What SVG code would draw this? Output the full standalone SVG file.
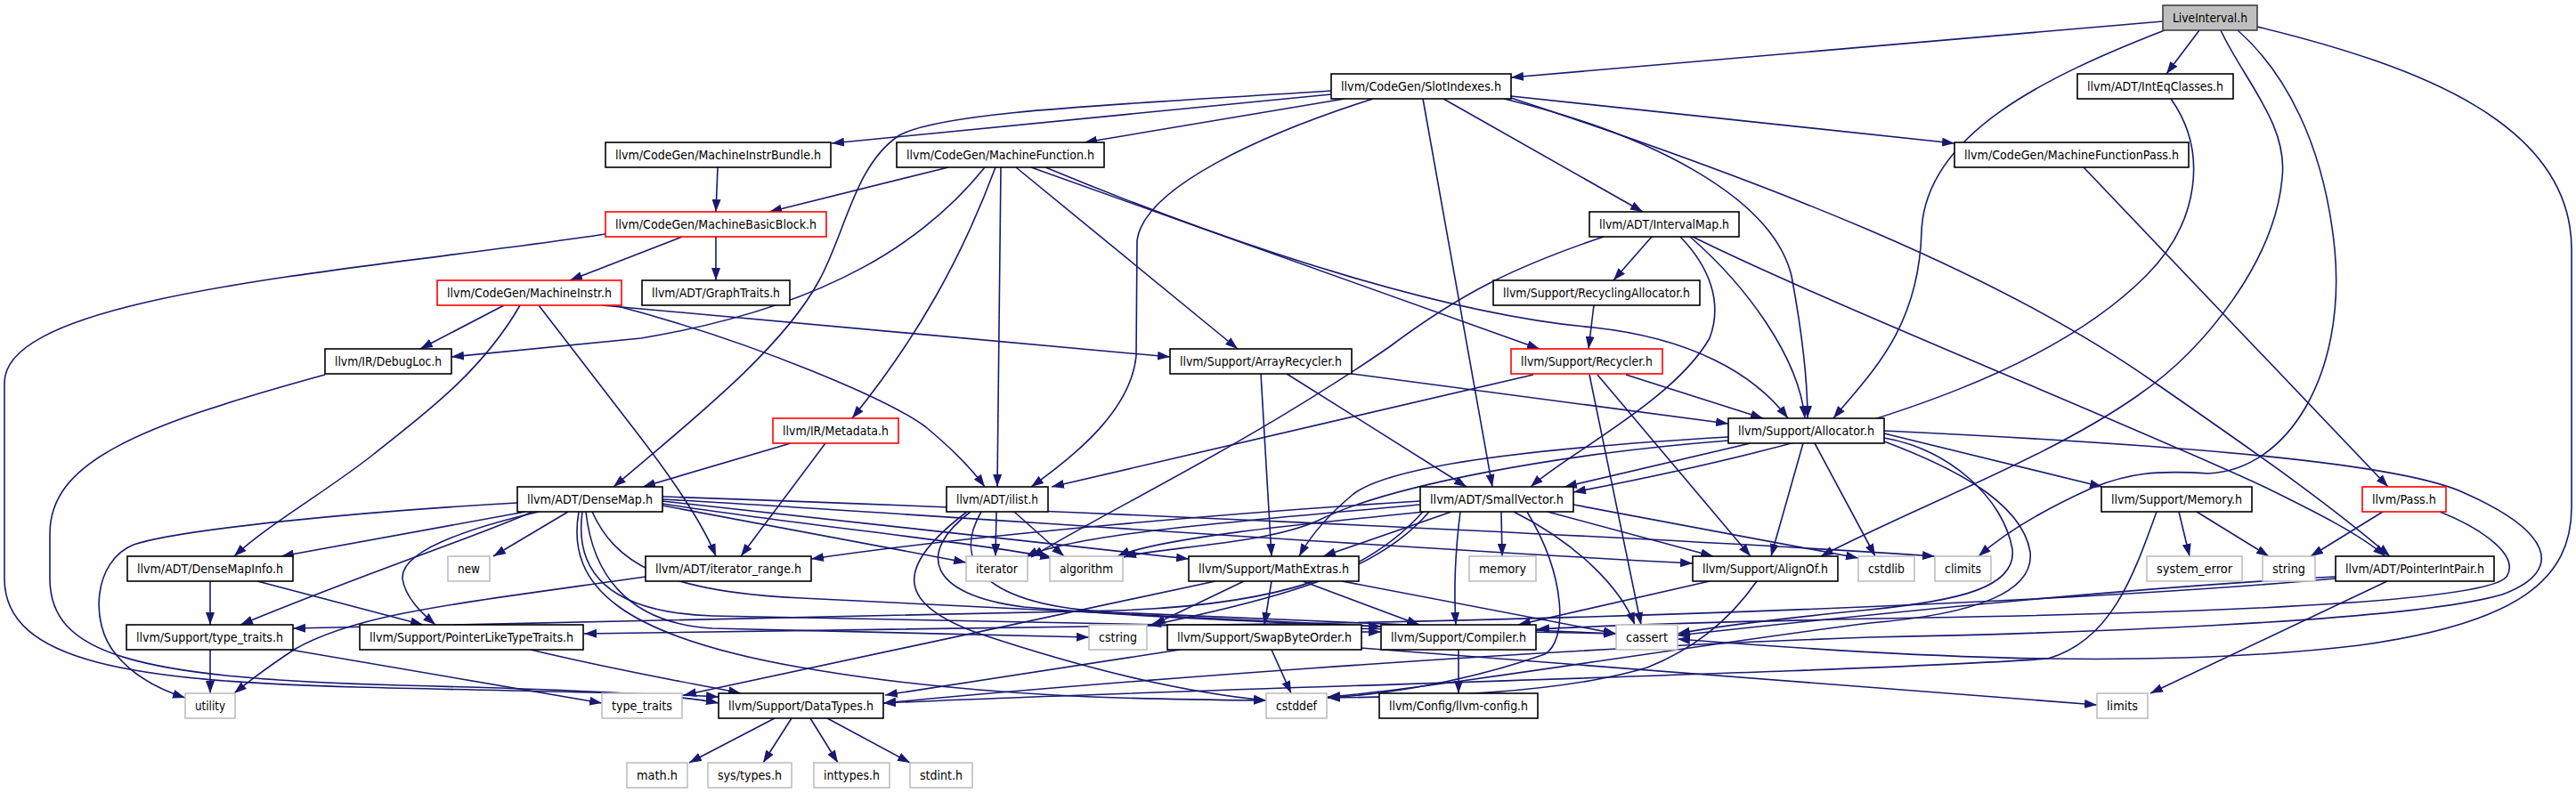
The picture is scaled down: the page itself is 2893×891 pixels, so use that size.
<svg xmlns="http://www.w3.org/2000/svg" width="2893" height="891" viewBox="0 0 2893 891">
<style>
.e{fill:none;stroke:#191970;stroke-width:1.6;marker-end:url(#ah)}
.n rect{fill:#fff;stroke:#000;stroke-width:1.6}
.r rect{fill:#fff;stroke:#ff0000;stroke-width:1.6}
.g rect{fill:#fff;stroke:#bfbfbf;stroke-width:1.6}
.root rect{fill:#bfbfbf;stroke:#404040;stroke-width:1.6}
text{font-family:"DejaVu Sans Condensed","DejaVu Sans",sans-serif;font-size:14px;fill:#000;text-anchor:middle}
</style>
<defs>
<marker id="ah" viewBox="0 0 14 10" refX="14" refY="5" markerWidth="14" markerHeight="10" markerUnits="userSpaceOnUse" orient="auto"><path d="M0,0L14,5L0,10z" fill="#191970"/></marker>
</defs>
<rect width="2893" height="891" fill="#fff"/>
<g id="edges">
<path class="e" d="M2429,24 L1697,87"/>
<path class="e" d="M2470,34 L2433,83"/>
<path class="e" d="M2431,34 C2300,85 2162,150 2158,260 C2155,370 2100,420 2059,470"/>
<path class="e" d="M2494,34 C2520,90 2570,140 2563,200 C2555,290 2480,390 2400,445 C2300,515 2150,570 2045,625"/>
<path class="e" d="M2513,34 C2565,80 2610,160 2622,280 C2635,420 2570,528 2480,532 C2420,528 2390,532 2350,548 C2290,575 2250,600 2222,625"/>
<path class="e" d="M2535,30 C2720,75 2888,140 2888,280 L2888,570 C2888,650 2830,700 2650,725 C2400,755 2100,735 1884,718"/>
<path class="e" d="M1495,106 L934,161"/>
<path class="e" d="M1510,111 L1218,160"/>
<path class="e" d="M1495,102 C1250,118 1060,125 1010,152 C960,185 950,260 920,315 C880,390 780,470 689,547"/>
<path class="e" d="M1542,111 C1420,150 1285,210 1277,270 L1276,400 C1270,460 1210,510 1158,547"/>
<path class="e" d="M1598,111 L1676,547"/>
<path class="e" d="M1621,111 L1845,238"/>
<path class="e" d="M1689,111 C1850,150 1990,220 2012,310 C2025,380 2030,430 2030,470"/>
<path class="e" d="M1697,110 C2000,210 2250,310 2420,430 C2550,520 2620,570 2684,625"/>
<path class="e" d="M1697,108 L2195,161"/>
<path class="e" d="M2438,111 C2480,170 2470,250 2410,310 C2320,400 2150,480 1767,553"/>
<path class="e" d="M806,188 L804,238"/>
<path class="e" d="M1065,188 L864,238"/>
<path class="e" d="M1106,188 C1040,270 930,345 720,380 L507,401"/>
<path class="e" d="M1118,188 C1080,290 1030,380 957,470"/>
<path class="e" d="M1124,188 L1120,547"/>
<path class="e" d="M1141,188 L1390,392"/>
<path class="e" d="M1158,188 L1729,392"/>
<path class="e" d="M1174,188 C1420,290 1640,355 1790,368 C1900,380 1970,420 2008,470"/>
<path class="e" d="M2340,188 L2682,547"/>
<path class="e" d="M804,266 L804,315"/>
<path class="e" d="M766,266 L640,315"/>
<path class="e" d="M680,263 C400,305 5,330 5,430 L5,650 C5,745 150,765 400,772 C600,777 750,779 807,783"/>
<path class="e" d="M1855,266 L1812,315"/>
<path class="e" d="M1887,266 C1920,300 1935,340 1920,380 C1880,450 1760,510 1719,547"/>
<path class="e" d="M1898,266 C1960,320 2020,400 2027,470"/>
<path class="e" d="M1901,266 C2050,340 2400,480 2543,547 C2600,575 2650,600 2679,625"/>
<path class="e" d="M1801,266 C1700,300 1640,330 1560,390 C1400,500 1250,570 1158,626"/>
<path class="e" d="M566,343 L472,392"/>
<path class="e" d="M584,343 C540,420 470,470 420,510 C370,550 300,590 263,625"/>
<path class="e" d="M605,343 L722,495 C760,545 790,590 804,625"/>
<path class="e" d="M676,343 L1314,401"/>
<path class="e" d="M690,343 C850,385 1000,450 1040,480 C1070,505 1090,525 1106,547"/>
<path class="e" d="M1790,343 L1784,392"/>
<path class="e" d="M365,421 C150,480 56,520 56,600 L56,650 C56,735 150,762 450,770 C650,775 760,780 807,790"/>
<path class="e" d="M1445,420 L1647,547"/>
<path class="e" d="M1518,420 L1941,476"/>
<path class="e" d="M1416,420 L1428,625"/>
<path class="e" d="M1722,421 L1181,547"/>
<path class="e" d="M1785,421 L1843,702"/>
<path class="e" d="M1794,421 L1966,625"/>
<path class="e" d="M1826,421 L1980,470"/>
<path class="e" d="M888,498 L722,547"/>
<path class="e" d="M927,498 L832,625"/>
<path class="e" d="M1966,498 L1757,547"/>
<path class="e" d="M2025,498 L1989,625"/>
<path class="e" d="M2038,498 L2106,625"/>
<path class="e" d="M2116,487 L2361,547"/>
<path class="e" d="M1941,491 C1700,505 1560,525 1520,555 C1490,580 1470,605 1459,625"/>
<path class="e" d="M1941,495 C1750,510 1560,545 1480,585 C1420,612 1300,615 1262,626"/>
<path class="e" d="M2116,492 C2190,505 2250,560 2260,617 C2265,660 2200,675 2100,685 C2000,695 1920,705 1884,712"/>
<path class="e" d="M2116,496 C2180,520 2270,560 2280,620 C2285,665 2220,690 2100,700 C1900,725 1600,775 1491,783"/>
<path class="e" d="M2116,484 C2450,500 2700,520 2770,555 C2860,595 2885,640 2810,668 C2700,700 2300,712 2100,716 C1700,730 1200,770 992,790"/>
<path class="e" d="M590,575 L316,625"/>
<path class="e" d="M598,575 C530,605 420,640 270,702"/>
<path class="e" d="M605,575 C520,595 450,620 452,650 C455,672 475,690 489,702"/>
<path class="e" d="M638,575 L554,625"/>
<path class="e" d="M581,565 C400,575 200,595 150,612 C105,630 100,700 130,735 C150,760 180,775 208,784"/>
<path class="e" d="M654,575 C645,640 680,688 800,692 L1815,712"/>
<path class="e" d="M658,575 C665,640 700,700 800,706 L1223,716"/>
<path class="e" d="M665,575 C690,630 740,665 900,672 C1200,685 1400,695 1551,704"/>
<path class="e" d="M650,575 C635,660 700,715 900,750 C1100,785 1300,786 1422,787"/>
<path class="e" d="M744,568 L1085,632"/>
<path class="e" d="M744,566 C900,590 1100,610 1182,627"/>
<path class="e" d="M744,563 L1335,628"/>
<path class="e" d="M744,561 C1000,575 1500,612 1901,633"/>
<path class="e" d="M744,558 C1100,570 1800,600 2173,625"/>
<path class="e" d="M1119,575 L1118,625"/>
<path class="e" d="M1139,575 L1195,625"/>
<path class="e" d="M1086,575 C1000,640 1010,680 1100,712 C1250,762 1350,780 1422,787"/>
<path class="e" d="M1090,575 C1030,620 1040,668 1150,682 C1300,695 1450,700 1551,704"/>
<path class="e" d="M1102,575 C1070,630 1100,680 1250,688 C1500,698 1700,706 1815,712"/>
<path class="e" d="M1595,563 C1400,575 1100,600 911,628"/>
<path class="e" d="M1595,567 C1400,585 1200,600 1152,626"/>
<path class="e" d="M1600,575 C1450,590 1300,605 1255,625"/>
<path class="e" d="M1598,575 C1540,640 1450,680 1250,686 C900,695 600,700 329,706"/>
<path class="e" d="M1605,575 C1550,640 1450,670 1290,703"/>
<path class="e" d="M1630,575 L1486,625"/>
<path class="e" d="M1640,575 C1633,630 1633,670 1635,702"/>
<path class="e" d="M1686,575 L1687,625"/>
<path class="e" d="M1700,575 C1770,610 1820,660 1836,702"/>
<path class="e" d="M1715,575 C1760,650 1760,720 1735,735 C1650,765 1560,780 1491,784"/>
<path class="e" d="M1738,575 L1924,625"/>
<path class="e" d="M1767,567 L2087,627"/>
<path class="e" d="M2422,575 C2395,650 2370,720 2300,740 C2100,755 1300,775 992,790"/>
<path class="e" d="M2447,575 L2459,625"/>
<path class="e" d="M2467,575 L2548,625"/>
<path class="e" d="M2676,575 L2595,625"/>
<path class="e" d="M2740,575 C2790,595 2830,625 2815,648 C2790,680 2400,690 2160,694 C1950,698 1800,703 1726,707"/>
<path class="e" d="M236,653 L236,702"/>
<path class="e" d="M289,653 L475,702"/>
<path class="e" d="M725,648 C500,680 400,690 330,730 C300,750 280,765 263,779"/>
<path class="e" d="M1463,653 L1594,702"/>
<path class="e" d="M1428,653 L1420,702"/>
<path class="e" d="M1507,653 L1815,712"/>
<path class="e" d="M1397,653 L1295,702"/>
<path class="e" d="M1365,653 L768,781"/>
<path class="e" d="M1920,653 L1705,702"/>
<path class="e" d="M1973,653 C1940,700 1900,730 1850,750 C1750,780 1600,783 1491,784"/>
<path class="e" d="M2623,650 C2400,670 2000,690 1500,700 L656,712"/>
<path class="e" d="M2623,648 C2400,660 2100,690 1884,714"/>
<path class="e" d="M2681,653 L2415,779"/>
<path class="e" d="M236,730 L236,779"/>
<path class="e" d="M326,730 L676,790"/>
<path class="e" d="M596,730 C700,755 790,770 832,779"/>
<path class="e" d="M1529,710 L1551,710"/>
<path class="e" d="M1325,730 L994,781"/>
<path class="e" d="M1428,730 L1450,779"/>
<path class="e" d="M1528,728 L2355,792"/>
<path class="e" d="M1638,730 L1638,779"/>
<path class="e" d="M870,807 L774,857"/>
<path class="e" d="M889,807 L857,857"/>
<path class="e" d="M910,807 L941,857"/>
<path class="e" d="M929,807 L1022,857"/>
</g>
<g id="live" class="root"><rect x="2429" y="6" width="106" height="28"/><text x="2482" y="25" textLength="84" lengthAdjust="spacingAndGlyphs">LiveInterval.h</text></g>
<g id="slot" class="n"><rect x="1495" y="83" width="202" height="28"/><text x="1596" y="102" textLength="180" lengthAdjust="spacingAndGlyphs">llvm/CodeGen/SlotIndexes.h</text></g>
<g id="inteq" class="n"><rect x="2333" y="83" width="175" height="28"/><text x="2420.5" y="102" textLength="153" lengthAdjust="spacingAndGlyphs">llvm/ADT/IntEqClasses.h</text></g>
<g id="mib" class="n"><rect x="680" y="160" width="253" height="28"/><text x="806.5" y="179" textLength="231" lengthAdjust="spacingAndGlyphs">llvm/CodeGen/MachineInstrBundle.h</text></g>
<g id="mf" class="n"><rect x="1007" y="160" width="233" height="28"/><text x="1123.5" y="179" textLength="211" lengthAdjust="spacingAndGlyphs">llvm/CodeGen/MachineFunction.h</text></g>
<g id="mfp" class="n"><rect x="2195" y="160" width="263" height="28"/><text x="2326.5" y="179" textLength="241" lengthAdjust="spacingAndGlyphs">llvm/CodeGen/MachineFunctionPass.h</text></g>
<g id="mbb" class="r"><rect x="680" y="238" width="248" height="28"/><text x="804" y="257" textLength="226" lengthAdjust="spacingAndGlyphs">llvm/CodeGen/MachineBasicBlock.h</text></g>
<g id="imap" class="n"><rect x="1785" y="238" width="168" height="28"/><text x="1869" y="257" textLength="146" lengthAdjust="spacingAndGlyphs">llvm/ADT/IntervalMap.h</text></g>
<g id="mi" class="r"><rect x="491" y="315" width="207" height="28"/><text x="594.5" y="334" textLength="185" lengthAdjust="spacingAndGlyphs">llvm/CodeGen/MachineInstr.h</text></g>
<g id="gt" class="n"><rect x="721" y="315" width="166" height="28"/><text x="804" y="334" textLength="144" lengthAdjust="spacingAndGlyphs">llvm/ADT/GraphTraits.h</text></g>
<g id="ralloc" class="n"><rect x="1677" y="315" width="232" height="28"/><text x="1793" y="334" textLength="210" lengthAdjust="spacingAndGlyphs">llvm/Support/RecyclingAllocator.h</text></g>
<g id="dl" class="n"><rect x="365" y="392" width="142" height="28"/><text x="436" y="411" textLength="120" lengthAdjust="spacingAndGlyphs">llvm/IR/DebugLoc.h</text></g>
<g id="ar" class="n"><rect x="1314" y="392" width="204" height="28"/><text x="1416" y="411" textLength="182" lengthAdjust="spacingAndGlyphs">llvm/Support/ArrayRecycler.h</text></g>
<g id="rec" class="r"><rect x="1697" y="392" width="170" height="28"/><text x="1782" y="411" textLength="148" lengthAdjust="spacingAndGlyphs">llvm/Support/Recycler.h</text></g>
<g id="md" class="r"><rect x="868" y="470" width="141" height="28"/><text x="938.5" y="489" textLength="119" lengthAdjust="spacingAndGlyphs">llvm/IR/Metadata.h</text></g>
<g id="alloc" class="n"><rect x="1941" y="470" width="175" height="28"/><text x="2028.5" y="489" textLength="153" lengthAdjust="spacingAndGlyphs">llvm/Support/Allocator.h</text></g>
<g id="dm" class="n"><rect x="581" y="547" width="163" height="28"/><text x="662.5" y="566" textLength="141" lengthAdjust="spacingAndGlyphs">llvm/ADT/DenseMap.h</text></g>
<g id="il" class="n"><rect x="1063" y="547" width="114" height="28"/><text x="1120" y="566" textLength="92" lengthAdjust="spacingAndGlyphs">llvm/ADT/ilist.h</text></g>
<g id="sv" class="n"><rect x="1595" y="547" width="172" height="28"/><text x="1681" y="566" textLength="150" lengthAdjust="spacingAndGlyphs">llvm/ADT/SmallVector.h</text></g>
<g id="mem" class="n"><rect x="2360" y="547" width="169" height="28"/><text x="2444.5" y="566" textLength="147" lengthAdjust="spacingAndGlyphs">llvm/Support/Memory.h</text></g>
<g id="pass" class="r"><rect x="2653" y="547" width="94" height="28"/><text x="2700" y="566" textLength="72" lengthAdjust="spacingAndGlyphs">llvm/Pass.h</text></g>
<g id="dmi" class="n"><rect x="143" y="625" width="186" height="28"/><text x="236" y="644" textLength="164" lengthAdjust="spacingAndGlyphs">llvm/ADT/DenseMapInfo.h</text></g>
<g id="new" class="g"><rect x="503" y="625" width="47" height="28"/><text x="526.5" y="644" textLength="25" lengthAdjust="spacingAndGlyphs">new</text></g>
<g id="itr" class="n"><rect x="725" y="625" width="186" height="28"/><text x="818" y="644" textLength="164" lengthAdjust="spacingAndGlyphs">llvm/ADT/iterator_range.h</text></g>
<g id="iter" class="g"><rect x="1085" y="625" width="69" height="28"/><text x="1119.5" y="644" textLength="47" lengthAdjust="spacingAndGlyphs">iterator</text></g>
<g id="algo" class="g"><rect x="1179" y="625" width="82" height="28"/><text x="1220" y="644" textLength="60" lengthAdjust="spacingAndGlyphs">algorithm</text></g>
<g id="mx" class="n"><rect x="1335" y="625" width="191" height="28"/><text x="1430.5" y="644" textLength="169" lengthAdjust="spacingAndGlyphs">llvm/Support/MathExtras.h</text></g>
<g id="memory" class="g"><rect x="1650" y="625" width="75" height="28"/><text x="1687.5" y="644" textLength="53" lengthAdjust="spacingAndGlyphs">memory</text></g>
<g id="ao" class="n"><rect x="1901" y="625" width="163" height="28"/><text x="1982.5" y="644" textLength="141" lengthAdjust="spacingAndGlyphs">llvm/Support/AlignOf.h</text></g>
<g id="cstdlib" class="g"><rect x="2087" y="625" width="63" height="28"/><text x="2118.5" y="644" textLength="41" lengthAdjust="spacingAndGlyphs">cstdlib</text></g>
<g id="climits" class="g"><rect x="2173" y="625" width="63" height="28"/><text x="2204.5" y="644" textLength="41" lengthAdjust="spacingAndGlyphs">climits</text></g>
<g id="syserr" class="g"><rect x="2411" y="625" width="107" height="28"/><text x="2464.5" y="644" textLength="85" lengthAdjust="spacingAndGlyphs">system_error</text></g>
<g id="string" class="g"><rect x="2541" y="625" width="59" height="28"/><text x="2570.5" y="644" textLength="37" lengthAdjust="spacingAndGlyphs">string</text></g>
<g id="pip" class="n"><rect x="2623" y="625" width="178" height="28"/><text x="2712" y="644" textLength="156" lengthAdjust="spacingAndGlyphs">llvm/ADT/PointerIntPair.h</text></g>
<g id="tt" class="n"><rect x="142" y="702" width="187" height="28"/><text x="235.5" y="721" textLength="165" lengthAdjust="spacingAndGlyphs">llvm/Support/type_traits.h</text></g>
<g id="pltt" class="n"><rect x="404" y="702" width="251" height="28"/><text x="529.5" y="721" textLength="229" lengthAdjust="spacingAndGlyphs">llvm/Support/PointerLikeTypeTraits.h</text></g>
<g id="cstring" class="g"><rect x="1223" y="702" width="65" height="28"/><text x="1255.5" y="721" textLength="43" lengthAdjust="spacingAndGlyphs">cstring</text></g>
<g id="sbo" class="n"><rect x="1311" y="702" width="218" height="28"/><text x="1420" y="721" textLength="196" lengthAdjust="spacingAndGlyphs">llvm/Support/SwapByteOrder.h</text></g>
<g id="comp" class="n"><rect x="1551" y="702" width="174" height="28"/><text x="1638" y="721" textLength="152" lengthAdjust="spacingAndGlyphs">llvm/Support/Compiler.h</text></g>
<g id="cassert" class="g"><rect x="1815" y="702" width="69" height="28"/><text x="1849.5" y="721" textLength="47" lengthAdjust="spacingAndGlyphs">cassert</text></g>
<g id="utility" class="g"><rect x="208" y="779" width="56" height="28"/><text x="236" y="798" textLength="34" lengthAdjust="spacingAndGlyphs">utility</text></g>
<g id="stt" class="g"><rect x="676" y="779" width="90" height="28"/><text x="721" y="798" textLength="68" lengthAdjust="spacingAndGlyphs">type_traits</text></g>
<g id="dt" class="n"><rect x="807" y="779" width="185" height="28"/><text x="899.5" y="798" textLength="163" lengthAdjust="spacingAndGlyphs">llvm/Support/DataTypes.h</text></g>
<g id="cstddef" class="g"><rect x="1422" y="779" width="68" height="28"/><text x="1456" y="798" textLength="46" lengthAdjust="spacingAndGlyphs">cstddef</text></g>
<g id="cfg" class="n"><rect x="1549" y="779" width="178" height="28"/><text x="1638" y="798" textLength="156" lengthAdjust="spacingAndGlyphs">llvm/Config/llvm-config.h</text></g>
<g id="limits" class="g"><rect x="2355" y="779" width="57" height="28"/><text x="2383.5" y="798" textLength="35" lengthAdjust="spacingAndGlyphs">limits</text></g>
<g id="math" class="g"><rect x="704" y="857" width="68" height="28"/><text x="738" y="876" textLength="46" lengthAdjust="spacingAndGlyphs">math.h</text></g>
<g id="systypes" class="g"><rect x="795" y="857" width="94" height="28"/><text x="842" y="876" textLength="72" lengthAdjust="spacingAndGlyphs">sys/types.h</text></g>
<g id="inttypes" class="g"><rect x="914" y="857" width="85" height="28"/><text x="956.5" y="876" textLength="63" lengthAdjust="spacingAndGlyphs">inttypes.h</text></g>
<g id="stdint" class="g"><rect x="1022" y="857" width="70" height="28"/><text x="1057" y="876" textLength="48" lengthAdjust="spacingAndGlyphs">stdint.h</text></g>
</svg>
